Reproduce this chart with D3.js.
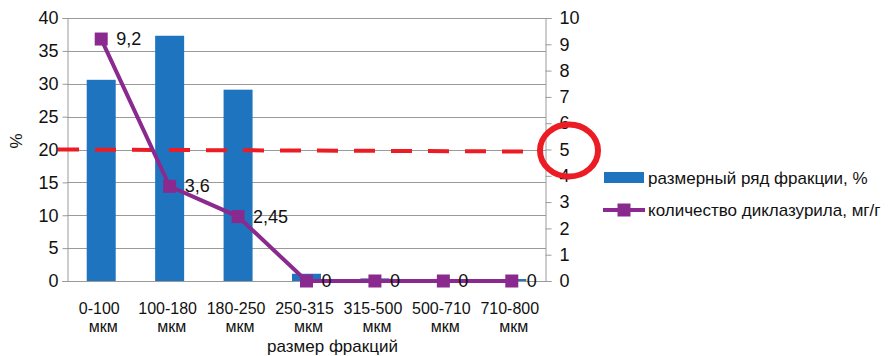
<!DOCTYPE html>
<html>
<head>
<meta charset="utf-8">
<script src="https://cdn.jsdelivr.net/npm/d3@7"></script>
<style>
  html, body { margin: 0; padding: 0; background: #fff; }
  svg { display: block; font-family: "Liberation Sans", Arial, sans-serif; }
</style>
</head>
<body>
<svg id="chart" width="892" height="356"></svg>
<script>
// Fraction size classes (two-line labels)
const categories = ["0-100 мкм", "100-180 мкм", "180-250 мкм", "250-315 мкм", "315-500 мкм", "500-710 мкм", "710-800 мкм"];
// Share of each fraction, %
const fractionShare = [30.6, 37.3, 29.1, 1.1, 0.4, 0.1, 0.3];
// Diclazuril content, mg/g
const diclazuril = [9.2, 3.6, 2.45, 0, 0, 0, 0];
const diclazurilLabels = ["9,2", "3,6", "2,45", "0", "0", "0", "0"];
// Axis ticks
const leftTicks = [0, 5, 10, 15, 20, 25, 30, 35, 40];
const rightTicks = [0, 1, 2, 3, 4, 5, 6, 7, 8, 9, 10];
// Threshold level (right axis)
const thresholdValue = 5;

const seriesNames = ["размерный ряд фракции, %", "количество диклазурила, мг/г"];
const xTitle = "размер фракций";
const yTitle = "%";

const svg = d3.select("#chart");
const m = { left: 67, right: 546, top: 18, bottom: 281 };

const x = d3.scaleBand().domain(categories).range([m.left, m.right]).paddingInner(0).paddingOuter(0);
const yL = d3.scaleLinear().domain([0, 40]).range([m.bottom, m.top]);
const yR = d3.scaleLinear().domain([0, 10]).range([m.bottom, m.top]);

const grey = "#9a9a9a";
const blue = "#1f74bf";
const purple = "#8b2a8e";
const red = "#ec1c24";

// horizontal gridlines
svg.append("g").selectAll("line").data(leftTicks.filter(d => d > 0)).join("line")
  .attr("x1", m.left).attr("x2", m.right)
  .attr("y1", d => Math.round(yL(d)) + 0.5).attr("y2", d => Math.round(yL(d)) + 0.5)
  .attr("stroke", grey).attr("stroke-width", 1);

// left axis
const gL = svg.append("g").attr("transform", `translate(${m.left + 0.5},0)`)
  .call(d3.axisLeft(yL).tickValues(leftTicks).tickSize(5).tickPadding(4));
gL.select(".domain").attr("stroke", grey);
gL.selectAll(".tick line").attr("stroke", grey);
gL.selectAll("text").attr("font-size", 18).attr("fill", "#111").attr("font-family", "Liberation Sans, Arial, sans-serif");

// right axis
const gR = svg.append("g").attr("transform", `translate(${m.right - 0.5},0)`)
  .call(d3.axisRight(yR).tickValues(rightTicks).tickSize(6).tickPadding(8));
gR.select(".domain").attr("stroke", grey);
gR.selectAll(".tick line").attr("stroke", grey);
gR.selectAll("text").attr("font-size", 18).attr("fill", "#111").attr("font-family", "Liberation Sans, Arial, sans-serif");

// bottom axis line
svg.append("line").attr("x1", m.left - 5).attr("x2", m.right)
  .attr("y1", m.bottom + 0.5).attr("y2", m.bottom + 0.5).attr("stroke", grey);

// bars
const barW = 29;
svg.append("g").selectAll("rect").data(fractionShare).join("rect")
  .attr("x", (d, i) => x(categories[i]) + x.bandwidth() / 2 - barW / 2)
  .attr("width", barW)
  .attr("y", d => yL(d))
  .attr("height", d => yL(0) - yL(d))
  .attr("fill", blue);

// category labels, wrapped onto two lines
const xl = svg.append("g").attr("font-size", 16).attr("fill", "#111").attr("text-anchor", "middle");
categories.forEach(c => {
  const parts = c.split(" ");
  const cxl = x(c) + x.bandwidth() / 2;
  xl.append("text").attr("x", cxl - 2).attr("y", 314).text(parts[0]);
  xl.append("text").attr("x", cxl + 2).attr("y", 332).text(parts[1]);
});

// axis titles
svg.append("text").attr("x", (m.left + m.right) / 2 + 26).attr("y", 352)
  .attr("text-anchor", "middle").attr("font-size", 17).attr("fill", "#111").text(xTitle);
svg.append("text").attr("transform", "translate(22,141) rotate(-90)")
  .attr("text-anchor", "middle").attr("font-size", 17).attr("fill", "#111").text(yTitle);

// threshold dashed line
svg.append("line")
  .attr("x1", 58).attr("x2", 525)
  .attr("y1", yR(thresholdValue)).attr("y2", yR(thresholdValue) + 2)
  .attr("stroke", red).attr("stroke-width", 4).attr("stroke-dasharray", "21,16");

// diclazuril line
const cx = (d, i) => x(categories[i]) + x.bandwidth() / 2;
const line = d3.line().x((d, i) => cx(d, i)).y(d => yR(d));
svg.append("path").datum(diclazuril).attr("d", line)
  .attr("fill", "none").attr("stroke", purple).attr("stroke-width", 4);
const ms = 13;
svg.append("g").selectAll("rect").data(diclazuril).join("rect")
  .attr("x", (d, i) => cx(d, i) - ms / 2).attr("y", d => yR(d) - ms / 2)
  .attr("width", ms).attr("height", ms).attr("fill", purple);
svg.append("g").selectAll("text").data(diclazurilLabels).join("text")
  .attr("x", (d, i) => cx(d, i) + 15).attr("y", (d, i) => yR(diclazuril[i]) + 6)
  .attr("font-size", 18).attr("fill", "#111").text(d => d);

// highlight ring around the threshold tick
svg.append("ellipse").attr("cx", 569).attr("cy", yR(thresholdValue) + 1)
  .attr("rx", 29).attr("ry", 26).attr("fill", "none").attr("stroke", red).attr("stroke-width", 6);

// legend
const lg = svg.append("g");
lg.append("rect").attr("x", 604).attr("y", 172).attr("width", 40).attr("height", 11).attr("fill", blue);
lg.append("text").attr("x", 648).attr("y", 184).attr("font-size", 17).attr("fill", "#111").text(seriesNames[0]);
lg.append("line").attr("x1", 603).attr("x2", 645).attr("y1", 210).attr("y2", 210)
  .attr("stroke", purple).attr("stroke-width", 4);
lg.append("rect").attr("x", 624 - ms / 2).attr("y", 210 - ms / 2).attr("width", ms).attr("height", ms).attr("fill", purple);
lg.append("text").attr("x", 648).attr("y", 216).attr("font-size", 17).attr("fill", "#111").text(seriesNames[1]);
</script>
</body>
</html>
